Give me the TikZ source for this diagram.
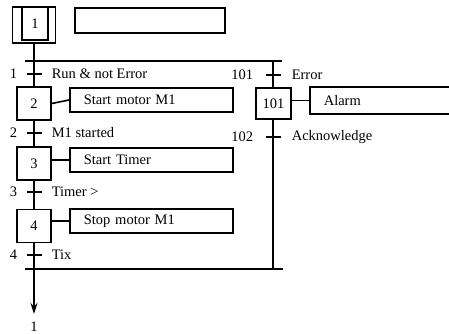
\documentclass[tikz,border=0pt]{standalone}
\usepackage{fontspec}
\setmainfont{Liberation Serif}
\usetikzlibrary{arrows.meta}
\begin{document}
\begin{tikzpicture}[x=1pt,y=-1pt,
  line width=1.6pt,
  every node/.style={font=\fontsize{14.5}{16}\selectfont},
  stepbox/.style={draw,rectangle,inner sep=0pt,minimum width=34pt,minimum height=33pt},
  actbox/.style={draw,rectangle,inner sep=0pt,minimum height=24pt,text width=#1-16pt,align=left,inner xsep=14pt,anchor=west},
  trans/.style={fill=black,rectangle,inner sep=0pt,minimum width=15pt,minimum height=1.8pt},
  tnum/.style={anchor=east,inner sep=0pt},
  tcond/.style={anchor=west,inner sep=0pt}]
\useasboundingbox (0,0) rectangle (449,334);
% initial step
\node[draw,rectangle,inner sep=0pt,minimum width=43pt,minimum height=36pt] (s1) at (34,25) {};
\node[draw,rectangle,inner sep=0pt,minimum width=26pt,minimum height=33pt] (s1in) at (35,23.5) {1};
\node[draw,rectangle,inner sep=0pt,minimum width=150pt,minimum height=25pt] (a1) at (150,20.5) {};
% steps
\node[stepbox] (s2) at (34,103.5) {2};
\node[stepbox] (s3) at (34,163.5) {3};
\node[stepbox] (s4) at (34,226) {4};
\node[stepbox,minimum width=35pt,minimum height=31pt] (s101) at (273.5,103.5) {101};
% actions
\node[actbox=151pt] (a2) at (69,100) {Start motor M1};
\node[actbox=151pt] (a3) at (69,160) {Start Timer};
\node[actbox=151pt] (a4) at (69,221) {Stop motor M1};
\node[actbox=140pt,minimum height=27pt] (a101) at (309,100.5) {Alarm};
% divergence / convergence
\coordinate (dl) at (25,61);
\coordinate (dr) at (282,61);
\coordinate (br) at (273,61);
\coordinate (cl) at (25,269);
\coordinate (cr) at (283,269);
\coordinate (cb) at (273,269);
\coordinate (cm) at (34,269);
\draw (dl) -- (dr);
\draw (cl) -- (cr);
% transitions
\node[trans] (t1) at (34,74) {};
\node[trans] (t2) at (34,133) {};
\node[trans] (t3) at (34,192) {};
\node[trans] (t4) at (34,255) {};
\node[trans] (t101) at (273,75) {};
\node[trans] (t102) at (273,137) {};
\node[tnum] (n1) at (18,74) {1};
\node[tnum] (n2) at (18,133) {2};
\node[tnum] (n3) at (18,192) {3};
\node[tnum] (n4) at (18,255) {4};
\node[tnum] (n101) at (254,75) {101};
\node[tnum] (n102) at (254,137) {102};
\node[tcond] (c1) at (51,74) {Run \& not Error};
\node[tcond] (c2) at (51,133) {M1 started};
\node[tcond] (c3) at (51,192) {Timer >};
\node[tcond] (c4) at (51,255) {Tix};
\node[tcond] (c101) at (291,75) {Error};
\node[tcond] (c102) at (291,137) {Acknowledge};
% links
\draw (s1.south -| s2) -- (s2.north);
\draw (s2.south) -- (s3.north);
\draw (s3.south) -- (s4.north);
\draw (s4.south) -- (cm);
\draw (br) -- (s101.north -| br);
\draw (s101.south -| br) -- (cb);
\draw (s2.east) -- (a2.west);
\draw (s3.east |- a3) -- (a3.west);
\draw (s4.east |- a4) -- (a4.west);
\draw (s101.east |- a101) -- (a101.west);
% return
\coordinate (tip) at (34,314);
\node[inner sep=0pt] (ret) at (34,327) {1};
\draw[-{Stealth[length=11pt,width=7pt]}] (cm) -- (tip);
\end{tikzpicture}
\end{document}
